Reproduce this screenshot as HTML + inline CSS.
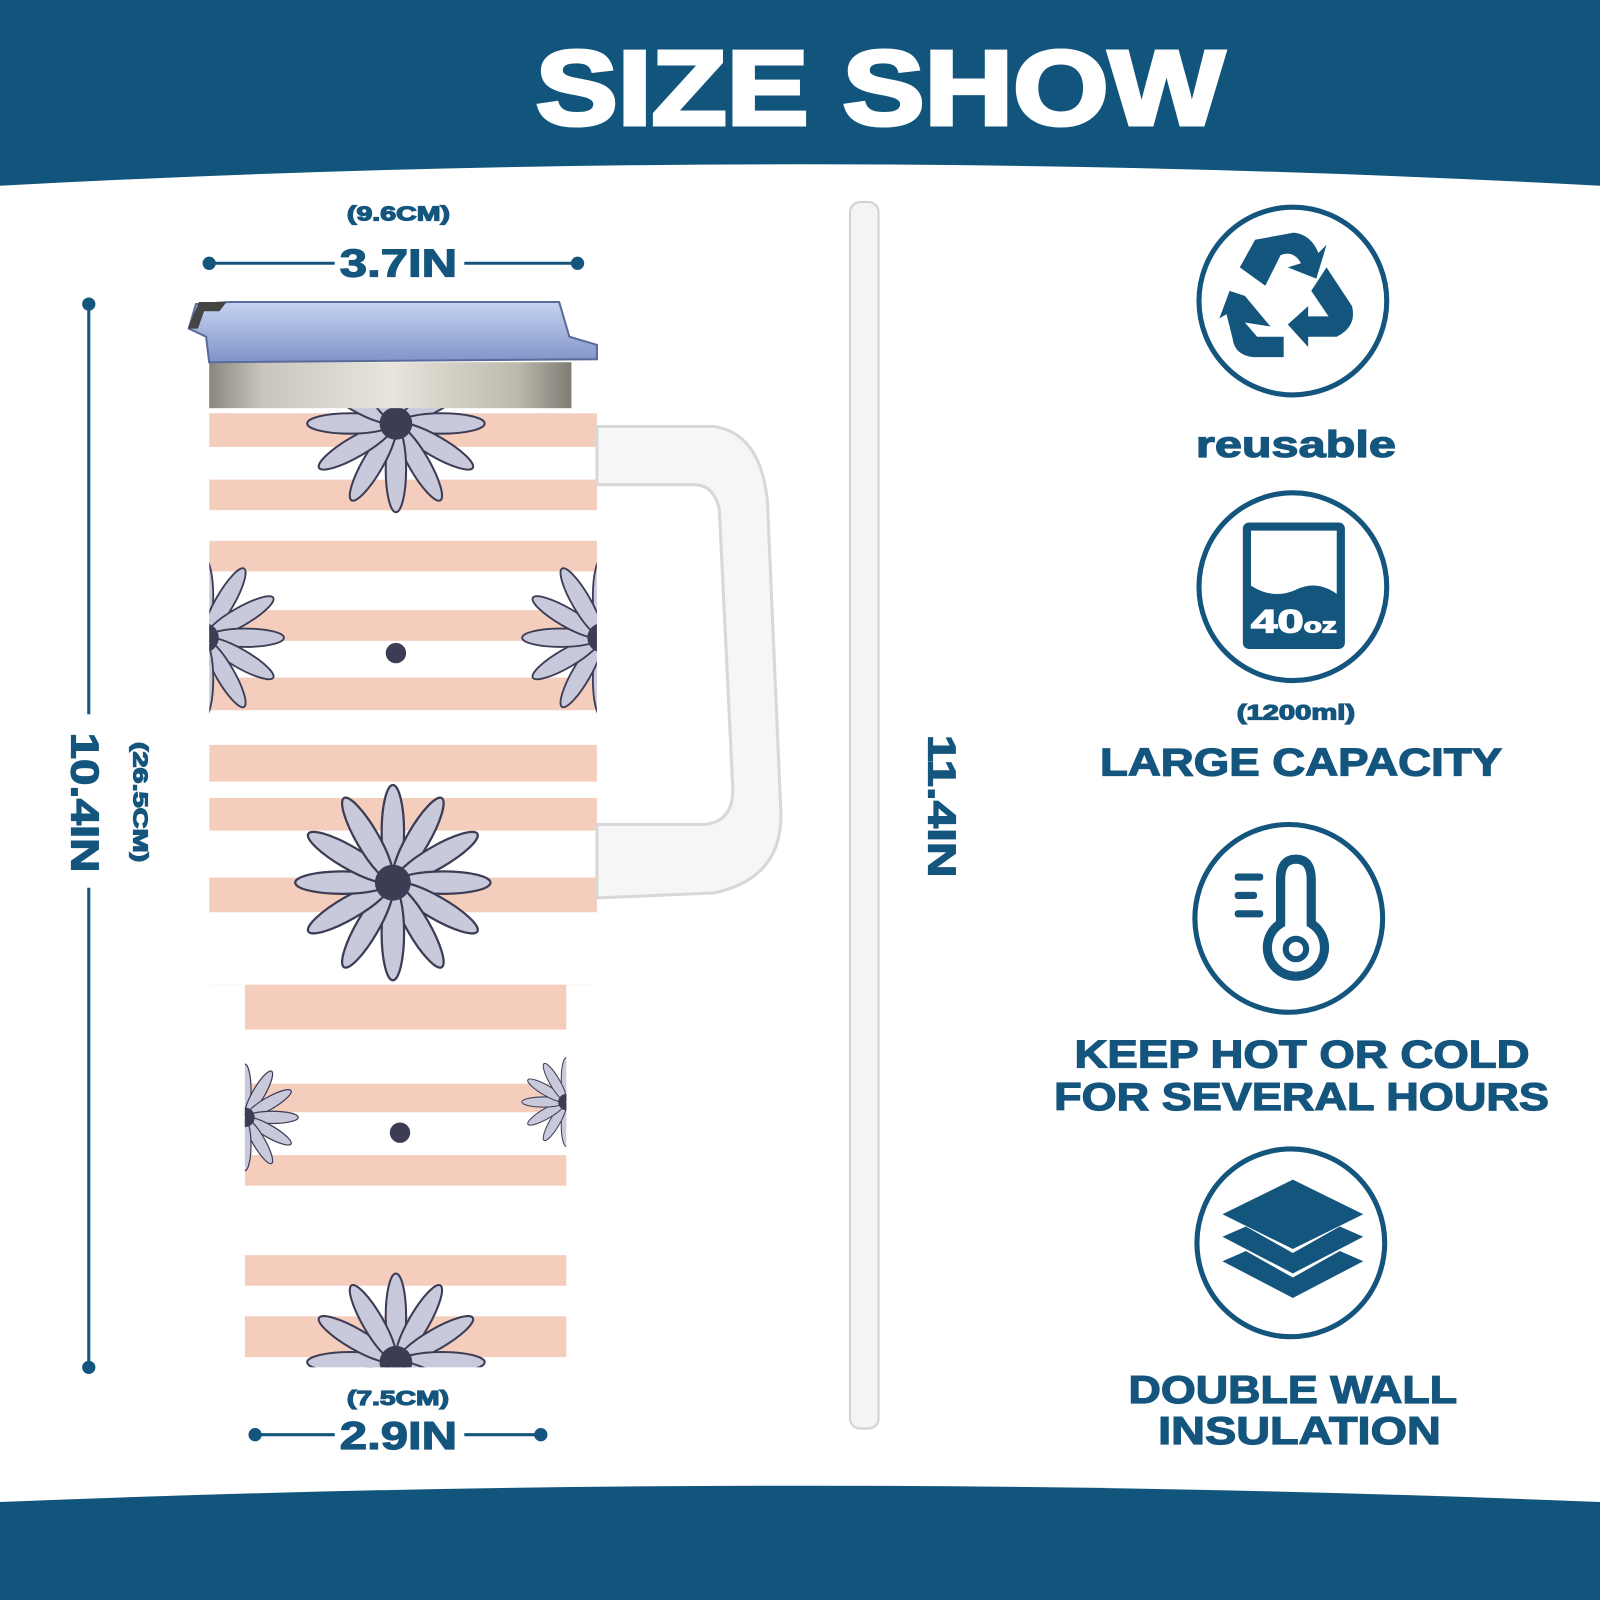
<!DOCTYPE html>
<html><head><meta charset="utf-8"><style>
html,body{margin:0;padding:0;width:1600px;height:1600px;overflow:hidden;background:#fff}
#w{width:1568px;height:1568px;transform:scale(1.020408);transform-origin:0 0;position:relative}
svg text{font-family:"Liberation Sans",Arial,sans-serif;font-weight:bold;fill:#14557e;stroke:#14557e;stroke-width:1.2}
</style></head><body><div id="w">
<svg width="1568" height="1568" viewBox="0 0 1568 1568" xmlns="http://www.w3.org/2000/svg">
<defs>
<linearGradient id="steel" x1="0" x2="1" y1="0" y2="0">
<stop offset="0" stop-color="#8a877f"/><stop offset="0.15" stop-color="#c9c6bd"/><stop offset="0.5" stop-color="#e8e5dc"/><stop offset="0.85" stop-color="#bdb9ae"/><stop offset="1" stop-color="#7f7c74"/></linearGradient>
<linearGradient id="lid" x1="0" x2="0" y1="0" y2="1"><stop offset="0" stop-color="#c6d3f0"/><stop offset="1" stop-color="#7f94c9"/></linearGradient>
<g id="flower">
<g fill="#c9c9dc" stroke="#3c3c55" stroke-width="2">
<ellipse cx="0" cy="-45" rx="10" ry="42"/>
<ellipse cx="0" cy="-45" rx="10" ry="42" transform="rotate(30)"/>
<ellipse cx="0" cy="-45" rx="10" ry="42" transform="rotate(60)"/>
<ellipse cx="0" cy="-45" rx="10" ry="42" transform="rotate(90)"/>
<ellipse cx="0" cy="-45" rx="10" ry="42" transform="rotate(120)"/>
<ellipse cx="0" cy="-45" rx="10" ry="42" transform="rotate(150)"/>
<ellipse cx="0" cy="-45" rx="10" ry="42" transform="rotate(180)"/>
<ellipse cx="0" cy="-45" rx="10" ry="42" transform="rotate(210)"/>
<ellipse cx="0" cy="-45" rx="10" ry="42" transform="rotate(240)"/>
<ellipse cx="0" cy="-45" rx="10" ry="42" transform="rotate(270)"/>
<ellipse cx="0" cy="-45" rx="10" ry="42" transform="rotate(300)"/>
<ellipse cx="0" cy="-45" rx="10" ry="42" transform="rotate(330)"/>
</g><circle r="16" fill="#3c3c55"/></g>
<clipPath id="body"><path d="M205 398 H585 V965 H555 V1340 H240 V965 H205 Z"/></clipPath>
</defs>
<path d="M0 0 H1568 V182 Q784 140 0 182 Z" fill="#12557c"/>
<text x="525" y="122" font-size="104" textLength="675" lengthAdjust="spacingAndGlyphs" style="fill:#fff;stroke:#fff;stroke-width:4">SIZE SHOW</text>
<path d="M0 1472 Q784 1440 1568 1472 V1568 H0 Z" fill="#12557c"/>
<g clip-path="url(#body)">
<rect x="200" y="395" width="400" height="950" fill="#fff"/>
<g fill="#f5cdbd">
<rect x="200" y="405" width="400" height="33"/><rect x="200" y="470" width="400" height="30"/>
<rect x="200" y="530" width="400" height="30"/><rect x="200" y="598" width="400" height="30"/>
<rect x="200" y="664" width="400" height="32"/><rect x="200" y="730" width="400" height="36"/>
<rect x="200" y="782" width="400" height="32"/><rect x="200" y="860" width="400" height="34"/>
<rect x="200" y="965" width="400" height="44"/><rect x="200" y="1062" width="400" height="28"/>
<rect x="200" y="1132" width="400" height="30"/><rect x="200" y="1230" width="400" height="30"/>
<rect x="200" y="1290" width="400" height="40"/>
</g>
<use href="#flower" transform="translate(388,415) scale(1)"/>
<use href="#flower" transform="translate(200,625) scale(0.9)"/>
<use href="#flower" transform="translate(590,625) scale(0.9)"/>
<use href="#flower" transform="translate(385,865) scale(1.1)"/>
<use href="#flower" transform="translate(240,1095) scale(0.6)"/>
<use href="#flower" transform="translate(555,1080) scale(0.5)"/>
<use href="#flower" transform="translate(388,1335) scale(1)"/>
<circle cx="388" cy="640" r="10" fill="#3c3c55"/>
<circle cx="392" cy="1110" r="10" fill="#3c3c55"/>
</g>
<rect x="205" y="355" width="355" height="45" fill="url(#steel)"/>
<path d="M185 322 L192 298 L225 296 L548 296 L558 330 L585 338 L585 352 L205 355 L202 330 Z" fill="url(#lid)" stroke="#5a6a9a" stroke-width="2"/>
<path d="M184 322 L195 296 L222 296 L215 305 L200 305 L194 322 Z" fill="#444"/>
<path d="M585 418 L700 418 Q745 425 752 490 L765 790 Q770 860 700 875 L585 880 L585 808 L690 808 Q720 805 718 770 L705 500 Q700 475 680 475 L585 475 Z" fill="#f6f6f6" stroke="#d8d8d8" stroke-width="3"/>
<rect x="833" y="198" width="28" height="1202" rx="10" fill="#f4f4f4" stroke="#d2d2d2" stroke-width="2"/>
<g stroke="#14557e" stroke-width="3" fill="#14557e">
<line x1="205" y1="258" x2="328" y2="258"/><line x1="455" y1="258" x2="566" y2="258"/>
<circle cx="205" cy="258" r="5"/><circle cx="566" cy="258" r="5"/>
<line x1="250" y1="1406" x2="328" y2="1406"/><line x1="455" y1="1406" x2="530" y2="1406"/>
<circle cx="250" cy="1406" r="5"/><circle cx="530" cy="1406" r="5"/>
<line x1="87" y1="298" x2="87" y2="700"/><line x1="87" y1="870" x2="87" y2="1340"/>
<circle cx="87" cy="298" r="5"/><circle cx="87" cy="1340" r="5"/>
</g>
<text x="340" y="216" font-size="20" textLength="101" lengthAdjust="spacingAndGlyphs">(9.6CM)</text>
<text x="333" y="271" font-size="38" textLength="115" lengthAdjust="spacingAndGlyphs">3.7IN</text>
<text x="340" y="1377" font-size="20" textLength="100" lengthAdjust="spacingAndGlyphs">(7.5CM)</text>
<text x="333" y="1420" font-size="38" textLength="115" lengthAdjust="spacingAndGlyphs">2.9IN</text>
<text transform="translate(70,718) rotate(90)" font-size="38" textLength="137" lengthAdjust="spacingAndGlyphs">10.4IN</text>
<text transform="translate(131,727) rotate(90)" font-size="20" textLength="118" lengthAdjust="spacingAndGlyphs">(26.5CM)</text>
<text transform="translate(910,720) rotate(90)" font-size="38" textLength="140" lengthAdjust="spacingAndGlyphs">11.4IN</text>
<g fill="none" stroke="#14557e" stroke-width="5">
<circle cx="1267" cy="295" r="92"/><circle cx="1267" cy="575" r="92"/>
<circle cx="1263" cy="900" r="92"/><circle cx="1265" cy="1218" r="92"/>
</g>
<g fill="#14557e">
<path d="M1230 235 L1268 228 Q1285 230 1292 248 L1300 240 L1290 273 L1262 262 L1275 258 Q1268 245 1255 250 L1240 280 L1215 262 Z"/>
<path d="M1300 262 L1325 300 Q1330 320 1310 330 L1282 330 L1282 340 L1262 318 L1282 300 L1282 310 L1302 310 L1285 285 Z"/>
<path d="M1205 285 L1220 290 L1245 320 L1220 316 L1232 330 L1258 330 L1258 350 L1228 350 Q1210 348 1208 332 L1202 308 L1195 312 Z"/>
<rect x="1218" y="512" width="100" height="124" rx="6"/>
<path d="M1226 520 H1310 V582 Q1290 568 1270 578 Q1248 588 1226 574 Z" fill="#fff"/>
<text x="1226" y="620" font-size="32" textLength="84" lengthAdjust="spacingAndGlyphs" style="fill:#fff;stroke:#fff">40<tspan font-size="20">oz</tspan></text>
<rect x="1210" y="856" width="28" height="7" rx="3"/><rect x="1210" y="874" width="22" height="7" rx="3"/><rect x="1210" y="892" width="28" height="7" rx="3"/>
</g>
<g fill="none" stroke="#14557e" stroke-width="9">
<path d="M1255 905 V862 Q1255 842 1270 842 Q1285 842 1285 862 V905 A28 28 0 1 1 1255 905 Z"/>
</g>
<circle cx="1270" cy="930" r="10" fill="none" stroke="#14557e" stroke-width="6"/>
<path d="M1198 1190 L1267 1156 L1336 1190 L1267 1224 Z" fill="#14557e"/>
<path d="M1198 1212 L1221 1202 L1267 1228 L1313 1202 L1336 1212 L1267 1248 Z" fill="#14557e"/>
<path d="M1198 1236 L1221 1226 L1267 1252 L1313 1226 L1336 1236 L1267 1272 Z" fill="#14557e"/>
<text x="1172" y="448" font-size="36" textLength="196" lengthAdjust="spacingAndGlyphs">reusable</text>
<text x="1212" y="705" font-size="21" textLength="116" lengthAdjust="spacingAndGlyphs">(1200ml)</text>
<text x="1078" y="760" font-size="38" textLength="394" lengthAdjust="spacingAndGlyphs">LARGE CAPACITY</text>
<text x="1053" y="1046" font-size="38" textLength="446" lengthAdjust="spacingAndGlyphs">KEEP HOT OR COLD</text>
<text x="1033" y="1088" font-size="38" textLength="485" lengthAdjust="spacingAndGlyphs">FOR SEVERAL HOURS</text>
<text x="1106" y="1375" font-size="38" textLength="322" lengthAdjust="spacingAndGlyphs">DOUBLE WALL</text>
<text x="1135" y="1415" font-size="38" textLength="277" lengthAdjust="spacingAndGlyphs">INSULATION</text>
</svg></div></body></html>
